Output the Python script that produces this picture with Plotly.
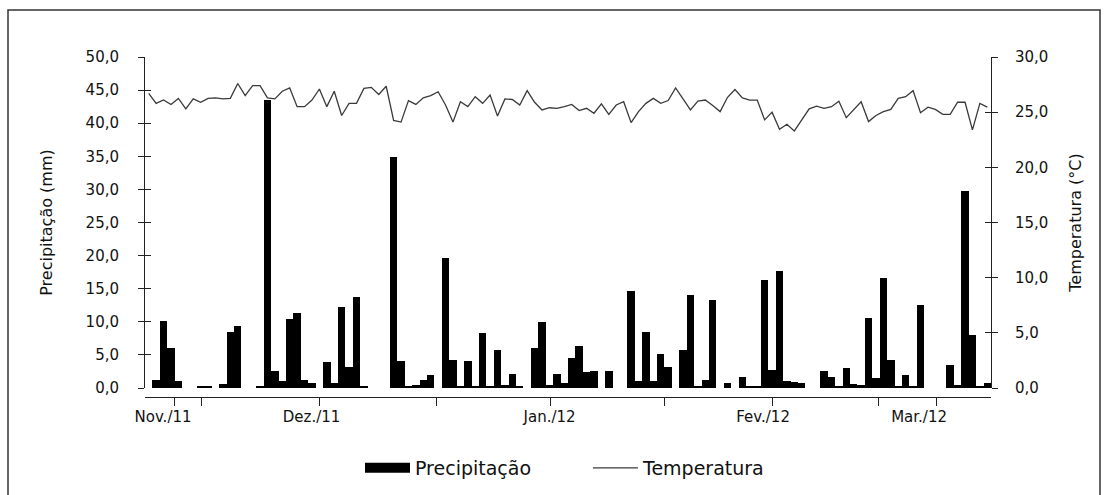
import plotly.graph_objects as go

# Daily precipitation (mm) and mean temperature (°C), Nov/2011 - Mar/2012
precip = [0, 1.2, 10.1, 6.0, 1.0, 0, 0, 0.3, 0.3, 0, 0.6, 8.5, 9.4, 0, 0, 0.3,
          43.5, 2.5, 1.1, 10.4, 11.3, 1.2, 0.7, 0, 3.9, 0.7, 12.2, 3.2, 13.8, 0.2,
          0, 0, 0, 34.9, 4.1, 0.2, 0.5, 1.2, 2.0, 0, 19.7, 4.3, 0.3, 4.1, 0.3, 8.3,
          0.2, 5.7, 0.5, 2.1, 0.2, 0, 6.0, 9.9, 0.5, 2.1, 0.7, 4.6, 6.4, 2.4, 2.6,
          0, 2.6, 0, 0, 14.7, 1.0, 8.5, 1.0, 5.1, 3.2, 0, 5.7, 14.0, 0.2, 1.2, 13.3,
          0, 0.7, 0, 1.6, 0.3, 0.3, 16.3, 2.7, 17.7, 1.1, 0.9, 0.7, 0, 0, 2.6, 1.6,
          0.2, 3.0, 0.6, 0.4, 10.6, 1.5, 16.6, 4.2, 0.3, 2.0, 0.3, 12.6, 0, 0, 0,
          3.5, 0.5, 29.8, 8.0, 0.2, 0.7]

temp = [26.7, 25.8, 26.1, 25.7, 26.25, 25.3, 26.2, 25.9, 26.25, 26.3, 26.2, 26.25,
        27.6, 26.5, 27.4, 27.4, 26.3, 26.2, 26.9, 27.2, 25.5, 25.5, 26.1, 27.1,
        25.5, 26.9, 24.7, 25.8, 25.8, 27.15, 27.25, 26.6, 27.35, 24.25, 24.1, 26.05,
        25.7, 26.3, 26.5, 26.85, 25.65, 24.1, 25.95, 25.5, 26.4, 25.8, 26.55, 24.65,
        26.2, 26.15, 25.65, 26.95, 25.9, 25.2, 25.4, 25.35, 25.5, 25.7, 25.15, 25.35,
        24.9, 25.75, 24.8, 25.65, 25.95, 24.05, 25.05, 25.8, 26.25, 25.8, 26.05, 27.2,
        26.2, 25.2, 26.0, 26.1, 25.6, 25.05, 26.35, 27.05, 26.3, 26.1, 26.1, 24.3,
        25.0, 23.45, 23.9, 23.3, 24.3, 25.3, 25.55, 25.35, 25.5, 26.0, 24.5, 25.2,
        25.95, 24.15, 24.7, 25.05, 25.25, 26.25, 26.4, 26.95, 24.95, 25.45, 25.25,
        24.8, 24.8, 25.9, 25.9, 23.4, 25.8, 25.45]

days = list(range(len(precip)))

month_labels = ["Nov./11", "Dez./11", "Jan./12", "Fev./12", "Mar./12"]
month_label_pos = [1.93, 21.94, 54.02, 82.79, 103.81]
axis_tick_pos = [3.41, 7.18, 23.08, 38.72, 54.08, 69.45, 84.0, 98.4, 106.1]

FONT = "DejaVu Sans, Liberation Sans, Arial, sans-serif"
AX = "#222222"
TXT = "#111111"

fig = go.Figure()
fig.add_trace(go.Bar(x=days, y=precip, width=1.0, marker=dict(color="#000000", line=dict(width=0)),
                     name="Precipitação", showlegend=False, xaxis="x", yaxis="y"))
fig.add_trace(go.Scatter(x=days, y=temp, mode="lines", line=dict(color="#3a3a3a", width=1.3),
                         name="Temperatura", showlegend=False, xaxis="x2", yaxis="y2"))
# legend entries (these also carry the inner tick axes)
fig.add_trace(go.Scatter(x=[None], y=[None], mode="lines", line=dict(color="#000000", width=12),
                         name="Precipitação", showlegend=True, xaxis="x", yaxis="y3"))
fig.add_trace(go.Scatter(x=[None], y=[None], mode="lines", line=dict(color="#3a3a3a", width=1.3),
                         name="Temperatura", showlegend=True, xaxis="x", yaxis="y4"))

xr = [-0.5, len(days) - 0.5]
PLOT_H = 340
ydom = [9 / PLOT_H, 1]
fig.update_layout(
    width=1110, height=495,
    margin=dict(l=145, r=119, t=57, b=98, autoexpand=False),
    paper_bgcolor="white", plot_bgcolor="white",
    separators=",.",
    bargap=0,
    showlegend=True,
    legend=dict(orientation="h", x=(360 - 145) / 846, xanchor="left", y=-(449 - 397) / PLOT_H,
                yanchor="top", font=dict(family=FONT, size=19, color=TXT), itemwidth=45,
                entrywidth=168, bgcolor="rgba(0,0,0,0)"),
    xaxis=dict(range=xr, anchor="free", position=0, tickmode="array", tickvals=month_label_pos,
               ticktext=month_labels, ticks="", showline=False, showgrid=False, zeroline=False,
               tickfont=dict(family=FONT, size=15, color=TXT), ticklabelstandoff=9),
    xaxis2=dict(range=xr, overlaying="x", anchor="free", position=0, side="bottom",
                tickmode="array", tickvals=axis_tick_pos, showticklabels=False,
                ticks="outside", ticklen=8, tickcolor=AX, showline=True, linecolor=AX, linewidth=1,
                showgrid=False, zeroline=False),
    yaxis=dict(domain=ydom, range=[0, 50], dtick=5, tickformat=".1f", ticks="outside", ticklen=6,
               tickcolor=AX, showline=True, linecolor=AX, linewidth=1, showgrid=False,
               zeroline=False, anchor="x",
               tickfont=dict(family=FONT, size=15, color=TXT), ticklabelstandoff=16,
               title=dict(text="Precipitação (mm)", font=dict(family=FONT, size=16, color=TXT),
                          standoff=28)),
    yaxis2=dict(domain=ydom, range=[0, 30], dtick=5, tickformat=".1f", overlaying="y", side="right",
                anchor="x", ticks="outside", ticklen=6, tickcolor=AX, showline=True, linecolor=AX,
                linewidth=1, showgrid=False, zeroline=False,
                tickfont=dict(family=FONT, size=15, color=TXT), ticklabelstandoff=14,
                title=dict(text="Temperatura (°C)", font=dict(family=FONT, size=16, color=TXT),
                           standoff=22)),
    yaxis3=dict(domain=ydom, range=[0, 50], dtick=5, overlaying="y", side="left", anchor="x",
                ticks="inside", ticklen=6, tickcolor=AX, showticklabels=False, showline=False,
                showgrid=False, zeroline=False),
    yaxis4=dict(domain=ydom, range=[0, 30], dtick=5, overlaying="y", side="right", anchor="x",
                ticks="inside", ticklen=6, tickcolor=AX, showticklabels=False, showline=False,
                showgrid=False, zeroline=False),
)
fig.add_shape(type="rect", xref="paper", yref="paper",
              x0=-137 / 846, x1=(1100 - 145) / 846, y0=-120 / PLOT_H, y1=(397 - 10) / PLOT_H,
              line=dict(color="#333333", width=1.5), fillcolor="rgba(0,0,0,0)", layer="below")

fig.write_html("out.html")
